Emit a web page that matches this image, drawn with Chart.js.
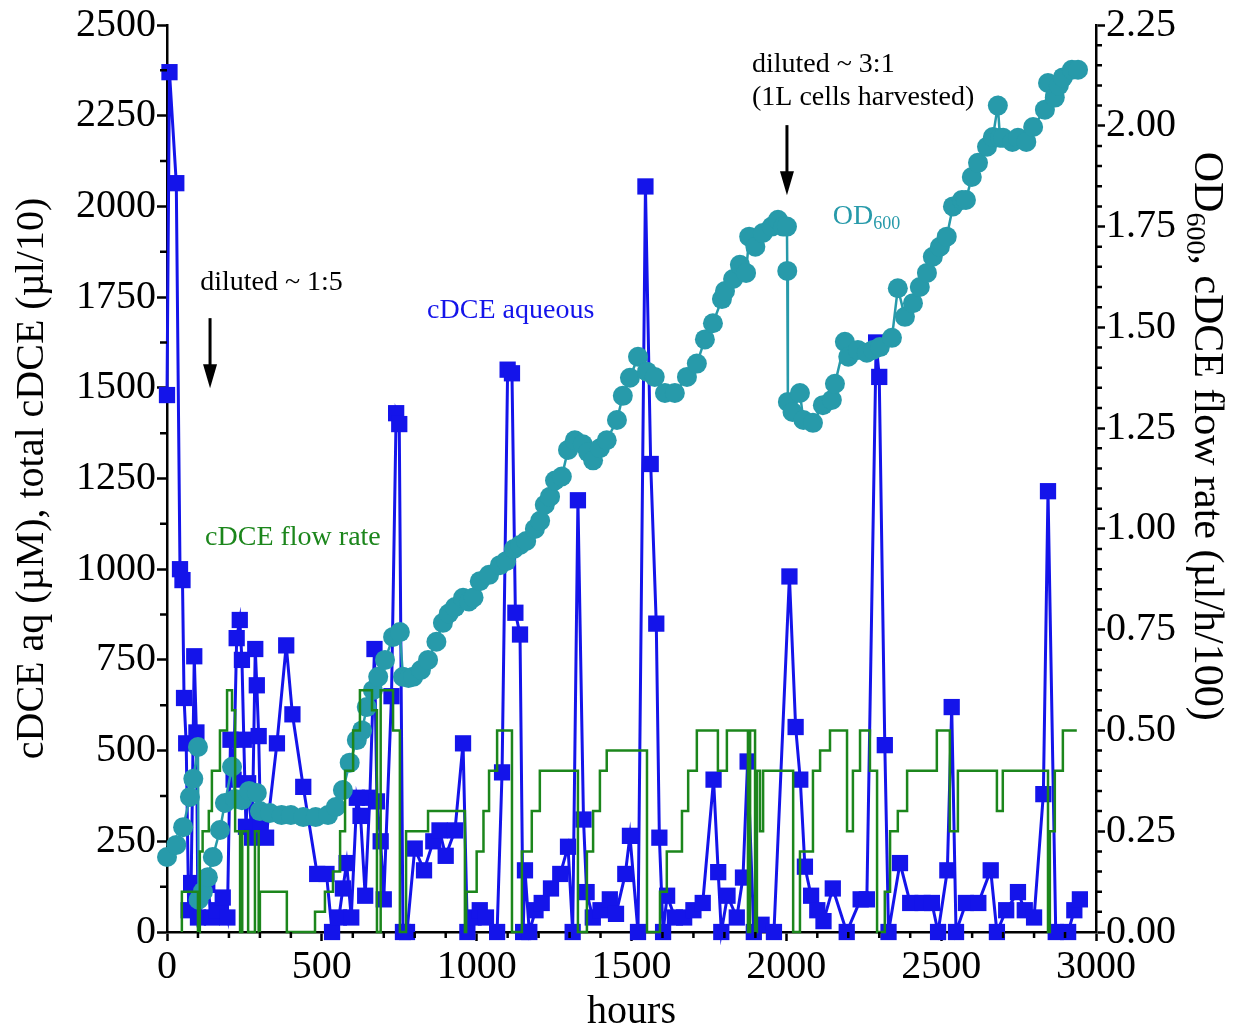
<!DOCTYPE html>
<html>
<head>
<meta charset="utf-8">
<script src="https://cdn.jsdelivr.net/npm/chart.js@4.4.1/dist/chart.umd.min.js"></script>
<style>
  html, body { margin: 0; padding: 0; background: #fff; }
  #wrap { width: 1234px; height: 1028px; }
</style>
</head>
<body>
<div id="wrap"><canvas id="chart"></canvas></div>
<script>
// ----- Data -----

// cDCE aqueous (µM), left axis
const aqHours = [
  0, 8, 30, 42, 50, 55, 62, 70, 78, 88, 95, 100, 130, 145, 160, 180, 195, 205, 215, 225,
  235, 242, 248, 255, 262, 275, 285, 290, 296, 302, 320, 355, 385, 405, 440, 485, 515, 533, 555, 568,
  580, 595, 613, 625, 640, 655, 670, 678, 690, 700, 725, 740, 750, 762, 775, 800, 830, 860, 880, 900,
  930, 956, 970, 990, 1010, 1030, 1066, 1082, 1100, 1114, 1125, 1140, 1150, 1156, 1170, 1190, 1210, 1240, 1270, 1295,
  1310, 1327, 1345, 1355, 1375, 1400, 1430, 1450, 1480, 1495, 1521, 1545, 1562, 1580, 1590, 1602, 1615, 1640, 1670, 1700,
  1730, 1765, 1780, 1790, 1810, 1840, 1860, 1875, 1895, 1920, 1960, 2010, 2030, 2045, 2060, 2080, 2100, 2120, 2150, 2195,
  2240, 2260, 2290, 2300, 2318, 2330, 2367, 2400, 2440, 2470, 2490, 2520, 2534, 2548, 2580, 2620, 2660, 2680, 2710, 2748,
  2770, 2800, 2830, 2845, 2870, 2910, 2930, 2948
];
const aqValues = [
  1480, 2370, 2064, 1000, 970, 645, 520, 60, 135, 760, 550, 40, 130, 40, 60, 95, 40, 530, 420, 810,
  860, 750, 530, 290, 410, 260, 780, 680, 540, 300, 260, 520, 790, 600, 400, 160, 160, 0, 40, 120,
  190, 40, 370, 320, 100, 370, 780, 360, 250, 90, 650, 1430, 1400, 0, 0, 230, 170, 250, 280, 210,
  280, 520, 0, 40, 60, 40, 0, 440, 1550, 1540, 880, 820, 0, 170, 0, 60, 80, 120, 160, 235,
  0, 1190, 310, 110, 40, 60, 90, 50, 160, 265, 0, 2055, 1290, 850, 260, 0, 100, 40, 40, 60,
  80, 420, 165, 0, 100, 40, 150, 470, 0, 20, 0, 980, 565, 420, 180, 100, 60, 30, 120, 0,
  90, 90, 1625, 1530, 515, 0, 190, 80, 80, 80, 0, 170, 620, 0, 80, 80, 170, 0, 60, 110,
  60, 40, 380, 1215, 0, 0, 60, 90
];

// OD600, right axis
const odHours = [
  0, 30, 52, 74, 85, 100, 102, 116, 132, 148, 171, 187, 210, 220, 242, 265, 290, 300, 332, 370,
  400, 440, 480, 520, 545, 568, 590, 613, 630, 645, 665, 682, 704, 730, 752, 762, 780, 795, 820, 843,
  870, 891, 910, 930, 956, 975, 990, 1010, 1040, 1075, 1095, 1120, 1140, 1160, 1188, 1205, 1220, 1237, 1253, 1275,
  1295, 1317, 1343, 1360, 1376, 1398, 1420, 1453, 1472, 1495, 1521, 1550, 1575, 1608, 1640, 1679, 1711, 1737, 1763, 1792,
  1802, 1828, 1850, 1870, 1880, 1900, 1924, 1953, 1973, 1990, 2002, 2003, 2005, 2020, 2044, 2055, 2086, 2118, 2147, 2157,
  2189, 2200, 2231, 2260, 2280, 2302, 2341, 2360, 2383, 2409, 2431, 2454, 2473, 2496, 2518, 2538, 2567, 2580, 2599, 2619,
  2648, 2667, 2683, 2690, 2700, 2730, 2748, 2775, 2797, 2835, 2845, 2867, 2880, 2893, 2922, 2942
];
const odValues = [
  0.186, 0.216, 0.26, 0.335, 0.38, 0.459, 0.08, 0.10, 0.136, 0.186, 0.253, 0.32, 0.41, 0.33, 0.327, 0.35, 0.345, 0.30, 0.295, 0.29,
  0.29, 0.285, 0.285, 0.29, 0.31, 0.352, 0.42, 0.476, 0.50, 0.558, 0.60, 0.633, 0.675, 0.732, 0.744, 0.633, 0.63, 0.633, 0.65, 0.675,
  0.72, 0.767, 0.79, 0.806, 0.829, 0.82, 0.83, 0.87, 0.886, 0.91, 0.92, 0.95, 0.96, 0.97, 1.0, 1.02, 1.06, 1.08, 1.12, 1.13,
  1.196, 1.22, 1.21, 1.19, 1.17, 1.20, 1.22, 1.27, 1.33, 1.375, 1.427, 1.39, 1.377, 1.337, 1.337, 1.377, 1.41, 1.47, 1.51, 1.57,
  1.59, 1.62, 1.655, 1.635, 1.725, 1.70, 1.734, 1.75, 1.767, 1.75, 1.75, 1.64, 1.315, 1.29, 1.337, 1.27, 1.263, 1.307, 1.32, 1.36,
  1.464, 1.427, 1.444, 1.437, 1.444, 1.451, 1.474, 1.597, 1.526, 1.56, 1.60, 1.635, 1.675, 1.70, 1.725, 1.80, 1.816, 1.816, 1.873, 1.908,
  1.948, 1.972, 2.05, 1.97, 1.97, 1.96, 1.97, 1.96, 1.997, 2.04, 2.106, 2.07, 2.10, 2.12, 2.139, 2.139
];

// cDCE flow rate (µl/h/100), right axis; each value holds until the next hour listed
const flowHours = [
  48, 48, 100, 106, 115, 135, 145, 171, 194, 210, 220, 236, 243, 262, 284, 296, 300, 387, 478, 510,
  536, 559, 575, 601, 623, 662, 678, 690, 730, 752, 772, 843, 962, 966, 1000, 1022, 1040, 1066, 1114, 1146,
  1178, 1204, 1327, 1356, 1376, 1398, 1420, 1550, 1592, 1614, 1663, 1683, 1711, 1779, 1808, 1876, 1883, 1899, 1905, 1915,
  1925, 2022, 2044, 2086, 2109, 2141, 2196, 2215, 2238, 2270, 2293, 2318, 2335, 2360, 2390, 2486, 2528, 2554, 2680, 2699,
  2845, 2851, 2867, 2893, 2938
];
const flowValues = [
  0, 0.10, 0, 0.20, 0.25, 0.30, 0.40, 0.50, 0.60, 0.55, 0.25, 0, 0.25, 0, 0.25, 0, 0.10, 0, 0.05, 0.10,
  0.15, 0.25, 0.40, 0.50, 0.60, 0.55, 0, 0.60, 0.50, 0, 0.25, 0.30, 0, 0.10, 0.20, 0.30, 0.40, 0.50, 0, 0.20,
  0.30, 0.40, 0, 0.20, 0.30, 0.40, 0.45, 0, 0.10, 0.20, 0.30, 0.40, 0.50, 0.40, 0.50, 0, 0.50, 0, 0.40, 0.25,
  0.40, 0, 0.20, 0.40, 0.45, 0.50, 0.25, 0.40, 0.50, 0.40, 0, 0.10, 0.25, 0.30, 0.40, 0.50, 0.25, 0.40, 0.30, 0.40,
  0, 0.25, 0.40, 0.50, 0.50
];

// Axis ticks
const xTicks = [0, 500, 1000, 1500, 2000, 2500, 3000];
const leftTicks = [0, 250, 500, 750, 1000, 1250, 1500, 1750, 2000, 2250, 2500];
const rightTicks = [0, 0.25, 0.5, 0.75, 1.0, 1.25, 1.5, 1.75, 2.0, 2.25];

// ----- Styling -----

const SERIF = "'Liberation Serif', 'Times New Roman', Times, serif";
const BLUE = "#1414ea";
const TEAL = "#279aaa";
const GREEN = "#1c861c";

const toXY = (xs, ys) => xs.map((x, i) => ({ x, y: ys[i] }));

// Text notes anchored in data units (hours, left-axis value)
const notes = [
  { parts: [["diluted ~ 1:5"]], h: 107, v: 1791, color: "#000" },
  { parts: [["cDCE aqueous"]], h: 840, v: 1714, color: BLUE },
  { parts: [["cDCE flow rate"]], h: 123, v: 1086, color: GREEN },
  { parts: [["diluted ~ 3:1"]], h: 1889, v: 2392, color: "#000" },
  { parts: [["(1L cells harvested)"]], h: 1889, v: 2301, color: "#000" },
  { parts: [["OD"], ["600", true]], h: 2150, v: 1971, color: TEAL },
];
const arrows = [
  { h: 139, from: 1692, to: 1499 },
  { h: 2002, from: 2224, to: 2031 },
];

/**
 * Draws a run of text pieces; pieces flagged true are subscripts.
 */
function drawParts(ctx, parts, x, y, size) {
  let cx = x;
  parts.forEach(([t, sub]) => {
    const s = sub ? Math.round(size * 0.66) : size;
    ctx.font = `${s}px ${SERIF}`;
    ctx.fillText(t, cx, sub ? y + size * 0.28 : y);
    cx += ctx.measureText(t).width;
  });
  return cx - x;
}

function measureParts(ctx, parts, size) {
  let w = 0;
  parts.forEach(([t, sub]) => {
    ctx.font = `${sub ? Math.round(size * 0.66) : size}px ${SERIF}`;
    w += ctx.measureText(t).width;
  });
  return w;
}

// Minor ticks, annotations and the right-hand axis title
const extrasPlugin = {
  id: "extras",
  afterDraw(chart) {
    const ctx = chart.ctx;
    const { x, y, y1 } = chart.scales;
    ctx.save();
    ctx.strokeStyle = "#000";
    ctx.lineWidth = 2.5;
    ctx.beginPath();
    for (let i = 0; i <= 30; i++) {
      if (i % 5 === 0) continue;
      const px = x.getPixelForValue(i * 100);
      ctx.moveTo(px, x.top);
      ctx.lineTo(px, x.top + 6);
    }
    for (let i = 0; i <= 20; i++) {
      if (i % 2 === 0) continue;
      const py = y.getPixelForValue(i * 125);
      ctx.moveTo(y.right, py);
      ctx.lineTo(y.right - 7, py);
    }
    for (let i = 0; i <= 45; i++) {
      if (i % 5 === 0) continue;
      const py = y1.getPixelForValue(i * 0.05);
      ctx.moveTo(y1.left, py);
      ctx.lineTo(y1.left + 6, py);
    }
    ctx.stroke();

    // notes
    ctx.textBaseline = "middle";
    ctx.textAlign = "left";
    notes.forEach(n => {
      ctx.fillStyle = n.color;
      drawParts(ctx, n.parts, x.getPixelForValue(n.h), y.getPixelForValue(n.v), 28);
    });

    // arrows
    ctx.fillStyle = "#000";
    arrows.forEach(a => {
      const px = x.getPixelForValue(a.h);
      const p0 = y.getPixelForValue(a.from);
      const p1 = y.getPixelForValue(a.to);
      ctx.lineWidth = 3;
      ctx.beginPath();
      ctx.moveTo(px, p0);
      ctx.lineTo(px, p1 - 20);
      ctx.stroke();
      ctx.beginPath();
      ctx.moveTo(px - 7, p1 - 24);
      ctx.lineTo(px + 7, p1 - 24);
      ctx.lineTo(px, p1);
      ctx.closePath();
      ctx.fill();
    });

    // right axis title, rotated to read downwards
    const title = [["OD"], ["600", true], [", cDCE flow rate (µl/h/100)"]];
    const size = 42;
    const w = measureParts(ctx, title, size);
    ctx.translate(y1.right - 28, y1.getPixelForValue(1.23));
    ctx.rotate(Math.PI / 2);
    ctx.fillStyle = "#000";
    drawParts(ctx, title, -w / 2, 0, size);
    ctx.restore();
  }
};

// ----- Chart -----

const tickFont = { family: SERIF, size: 40 };

window.addEventListener("DOMContentLoaded", () => {
  const ctx = document.getElementById("chart").getContext("2d");

  new Chart(ctx, {
    type: "line",
    data: {
      datasets: [
        {
          label: "cDCE flow rate",
          data: toXY(flowHours, flowValues),
          yAxisID: "y1",
          stepped: "before",
          borderColor: GREEN,
          borderWidth: 2.5,
          pointRadius: 0,
          fill: false,
          clip: false,
          order: 0,
        },
        {
          label: "OD600",
          data: toXY(odHours, odValues),
          yAxisID: "y1",
          borderColor: TEAL,
          backgroundColor: TEAL,
          borderWidth: 2.5,
          pointStyle: "circle",
          pointRadius: 10,
          pointBorderWidth: 0,
          fill: false,
          clip: false,
          order: 1,
        },
        {
          label: "cDCE aqueous",
          data: toXY(aqHours, aqValues),
          yAxisID: "y",
          borderColor: BLUE,
          backgroundColor: BLUE,
          borderWidth: 3,
          pointStyle: "rect",
          pointRadius: 11.5,
          pointBorderWidth: 0,
          fill: false,
          clip: false,
          order: 2,
        },
      ],
    },
    options: {
      responsive: true,
      maintainAspectRatio: false,
      animation: false,
      layout: { padding: { top: 25, left: 0, right: 0, bottom: 0 } },
      plugins: { legend: { display: false }, tooltip: { enabled: false } },
      scales: {
        x: {
          type: "linear",
          min: 0,
          max: 3000,
          afterBuildTicks: s => { s.ticks = xTicks.map(value => ({ value })); },
          afterFit: s => { s.height = 96; },
          ticks: { font: tickFont, color: "#000", padding: 2, maxRotation: 0, callback: v => String(v) },
          grid: { drawOnChartArea: false, tickLength: 9, tickColor: "#000", tickWidth: 2.5 },
          border: { display: true, color: "#000", width: 2.5 },
          title: {
            display: true,
            text: "hours",
            color: "#000",
            font: { family: SERIF, size: 40, lineHeight: 0.8 },
            padding: { top: 0, bottom: 0 },
          },
        },
        y: {
          position: "left",
          min: 0,
          max: 2500,
          afterBuildTicks: s => { s.ticks = leftTicks.map(value => ({ value })); },
          afterFit: s => { s.width = 167; },
          ticks: { font: tickFont, color: "#000", padding: 1, callback: v => String(v) },
          grid: { drawOnChartArea: false, tickLength: 10, tickColor: "#000", tickWidth: 2.5 },
          border: { display: true, color: "#000", width: 2.5 },
          title: {
            display: true,
            text: "cDCE aq (µM), total cDCE (µl/10)",
            color: "#000",
            font: { family: SERIF, size: 40, lineHeight: 1.0 },
            padding: { top: 12, bottom: 0 },
          },
        },
        y1: {
          position: "right",
          min: 0,
          max: 2.25,
          afterBuildTicks: s => { s.ticks = rightTicks.map(value => ({ value })); },
          afterFit: s => { s.width = 138; },
          ticks: { font: tickFont, color: "#000", padding: 1, callback: v => v.toFixed(2) },
          grid: { drawOnChartArea: false, tickLength: 9, tickColor: "#000", tickWidth: 2.5 },
          border: { display: true, color: "#000", width: 2.5 },
        },
      },
    },
    plugins: [extrasPlugin],
  });
});
</script>
</body>
</html>
